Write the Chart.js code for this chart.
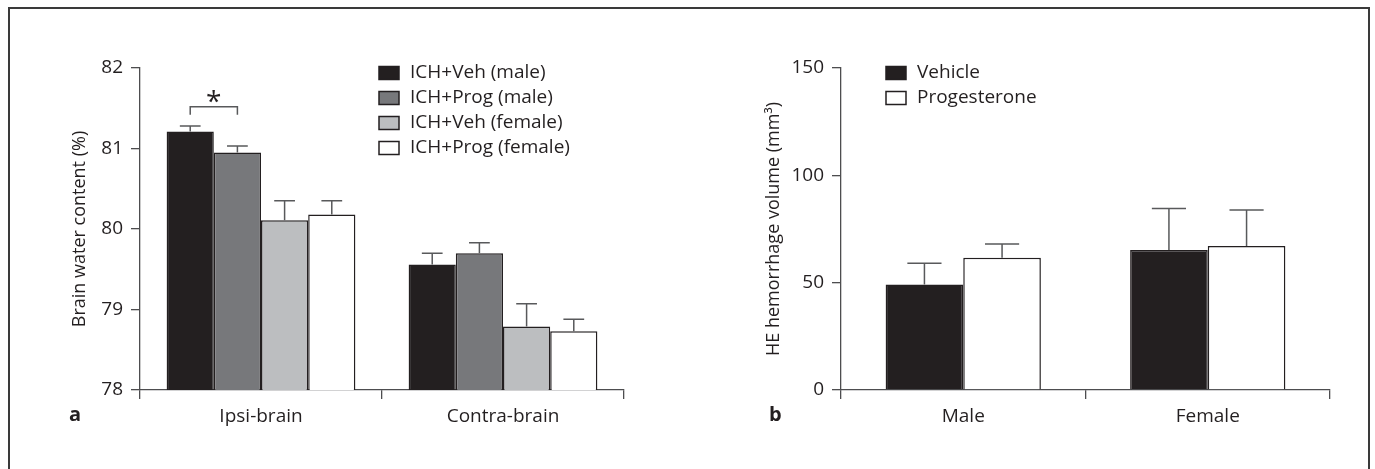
<!DOCTYPE html>
<html>
<head>
<meta charset="utf-8">
<script src="https://cdn.jsdelivr.net/npm/chart.js@4.4.1/dist/chart.umd.min.js"></script>
<style>
  body { margin: 0; background: #fff; width: 1375px; height: 469px; overflow: hidden; position: relative; }
  #frame { position: absolute; left: 8px; top: 7px; width: 1358px; height: 480px; border: 2px solid #3a3a3a; border-bottom: none; pointer-events: none; }
  .panel { position: absolute; top: 0; height: 469px; }
  #wrapA { left: 0; width: 687px; }
  #wrapB { left: 687px; width: 688px; }
</style>
</head>
<body>
<div class="panel" id="wrapA"><canvas id="chartA"></canvas></div>
<div class="panel" id="wrapB"><canvas id="chartB"></canvas></div>
<div id="frame"></div>
<script>
// panel a: brain water content
const categoriesA = ['Ipsi-brain', 'Contra-brain'];
const labelsA = ['ICH+Veh (male)', 'ICH+Prog (male)', 'ICH+Veh (female)', 'ICH+Prog (female)'];
const vehMale = [81.21, 79.56];
const progMale = [80.95, 79.70];
const vehFemale = [80.11, 78.79];
const progFemale = [80.18, 78.73];
const errVehMale = [0.07, 0.14];
const errProgMale = [0.08, 0.13];
const errVehFemale = [0.24, 0.28];
const errProgFemale = [0.17, 0.15];
const ticksA = [78, 79, 80, 81, 82];

// panel b: hemorrhage volume
const categoriesB = ['Male', 'Female'];
const labelsB = ['Vehicle', 'Progesterone'];
const vehicleB = [49.2, 65.2];
const progesteroneB = [61.6, 67.1];
const errVehicleB = [9.8, 19.4];
const errProgesteroneB = [6.4, 16.7];
const ticksB = [0, 50, 100, 150];

const FONT = "'Open Sans', 'Noto Sans', sans-serif";
const INK = '#231f20';
const AXIS = '#4d4d4f';

Chart.defaults.font.family = FONT;
Chart.defaults.color = INK;
Chart.defaults.animation = false;

const errorBars = {
  id: 'errorBars',
  afterDatasetsDraw(chart) {
    const ctx = chart.ctx;
    const y = chart.scales.y;
    chart.data.datasets.forEach((ds, i) => {
      chart.getDatasetMeta(i).data.forEach((bar, j) => {
        const top = y.getPixelForValue(ds.data[j] + ds.errors[j]);
        const half = bar.width * 0.22;
        ctx.save();
        ctx.strokeStyle = '#58595b';
        ctx.lineWidth = 1.5;
        ctx.beginPath();
        ctx.moveTo(bar.x, bar.y);
        ctx.lineTo(bar.x, top);
        ctx.moveTo(bar.x - half, top);
        ctx.lineTo(bar.x + half, top);
        ctx.stroke();
        ctx.restore();
      });
    });
  }
};

const boxLegend = {
  id: 'boxLegend',
  afterDraw(chart, args, opts) {
    const ctx = chart.ctx;
    const area = chart.chartArea;
    ctx.save();
    ctx.font = '19px ' + FONT;
    ctx.textBaseline = 'middle';
    chart.data.datasets.forEach((ds, i) => {
      const x = area.left + opts.x;
      const cy = area.top + opts.y + i * 25;
      ctx.fillStyle = ds.backgroundColor;
      ctx.fillRect(x, cy - 6.5, 20, 13);
      ctx.strokeStyle = INK;
      ctx.lineWidth = 1.5;
      ctx.strokeRect(x, cy - 6.5, 20, 13);
      ctx.fillStyle = INK;
      ctx.fillText(ds.label, x + 31, cy);
    });
    // panel letter
    ctx.font = 'bold 20px ' + FONT;
    ctx.fillText(opts.letter, area.left - opts.letterOffset, area.bottom + 25);
    ctx.restore();
  }
};

const sigBracket = {
  id: 'sigBracket',
  afterDraw(chart, args, opts) {
    if (!opts.show) return;
    const ctx = chart.ctx;
    const y = chart.scales.y;
    const b1 = chart.getDatasetMeta(0).data[0];
    const b2 = chart.getDatasetMeta(1).data[0];
    const top = y.getPixelForValue(81.52);
    const leg = y.getPixelForValue(81.42);
    ctx.save();
    ctx.strokeStyle = '#58595b';
    ctx.lineWidth = 1.5;
    ctx.beginPath();
    ctx.moveTo(b1.x, leg);
    ctx.lineTo(b1.x, top);
    ctx.lineTo(b2.x, top);
    ctx.lineTo(b2.x, leg);
    ctx.stroke();
    ctx.fillStyle = INK;
    ctx.font = '28px ' + FONT;
    ctx.textAlign = 'center';
    ctx.textBaseline = 'alphabetic';
    ctx.fillText('*', (b1.x + b2.x) / 2, top + 4);
    ctx.restore();
  }
};

function makeChart(id, cfg) {
  return new Chart(document.getElementById(id), {
    type: 'bar',
    data: { labels: cfg.categories, datasets: cfg.datasets },
    options: {
      responsive: true,
      maintainAspectRatio: false,
      layout: { padding: { top: 68, right: cfg.padRight, bottom: 0, left: 0 } },
      datasets: { bar: { categoryPercentage: cfg.catPct, barPercentage: 1 } },
      plugins: {
        legend: { display: false },
        tooltip: { enabled: false },
        boxLegend: cfg.legend,
        sigBracket: { show: cfg.bracket }
      },
      scales: {
        x: {
          grid: { display: true, offset: true, drawOnChartArea: false, tickLength: 9, color: AXIS, lineWidth: 1.3 },
          border: { display: true, color: AXIS, width: 1.3 },
          ticks: { font: { size: 19 }, color: INK, padding: 6 },
          afterFit(s) { s.height = 79; }
        },
        y: {
          min: cfg.ticks[0],
          max: cfg.ticks[cfg.ticks.length - 1],
          afterBuildTicks(s) { s.ticks = cfg.ticks.map(v => ({ value: v })); },
          grid: { display: true, drawOnChartArea: false, tickLength: 9, color: AXIS, lineWidth: 1.3 },
          border: { display: true, color: AXIS, width: 1.3 },
          ticks: { font: { size: 19 }, color: INK, padding: 8 },
          title: { display: true, text: cfg.yTitle, font: { size: 18 }, color: INK, padding: { top: cfg.titlePad, bottom: 0 } },
          afterFit(s) { s.width = cfg.axisX; }
        }
      }
    },
    plugins: [errorBars, boxLegend, sigBracket]
  });
}

function bar(label, data, errors, color) {
  return { label, data, errors, backgroundColor: color, borderColor: INK, borderWidth: 1.5 };
}

makeChart('chartA', {
  categories: categoriesA,
  datasets: [
    bar(labelsA[0], vehMale, errVehMale, '#231f20'),
    bar(labelsA[1], progMale, errProgMale, '#77787b'),
    bar(labelsA[2], vehFemale, errVehFemale, '#bcbec0'),
    bar(labelsA[3], progFemale, errProgFemale, '#ffffff')
  ],
  ticks: ticksA,
  yTitle: 'Brain water content (%)',
  titlePad: 69,
  axisX: 140,
  padRight: 63,
  catPct: 0.78,
  bracket: true,
  legend: { x: 239, y: 5, letter: 'a', letterOffset: 71 }
});

makeChart('chartB', {
  categories: categoriesB,
  datasets: [
    bar(labelsB[0], vehicleB, errVehicleB, '#231f20'),
    bar(labelsB[1], progesteroneB, errProgesteroneB, '#ffffff')
  ],
  ticks: ticksB,
  yTitle: 'HE hemorrhage volume (mm³)',
  titlePad: 76,
  axisX: 154,
  padRight: 45,
  catPct: 0.635,
  bracket: false,
  legend: { x: 45, y: 5, letter: 'b', letterOffset: 72 }
});
</script>
</body>
</html>
